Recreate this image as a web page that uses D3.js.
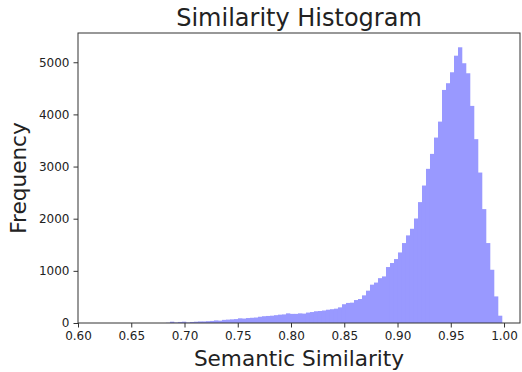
<!DOCTYPE html>
<html>
<head>
<meta charset="utf-8">
<script src="https://cdn.jsdelivr.net/npm/d3@7"></script>
<style>
 body{margin:0;background:#fff;}
 svg text{font-family:"DejaVu Sans",sans-serif;fill:#222;}
</style>
</head>
<body>
<div id="chart"></div>
<script>
// histogram bins: left edge of first bin and common width
var binStart = 0.6225;
var binWidth = 0.003756;

// counts per bin
var counts = [
 0,0,0,0,0,0,0,0,0,0,
 0,0,0,0,0,0,5,25,10,20,
 25,10,20,25,30,30,35,40,50,45,
 60,65,70,75,90,85,95,100,105,120,
 130,135,140,150,160,165,185,175,175,185,
 180,200,210,225,230,240,255,265,275,300,
 360,385,390,440,460,530,620,735,775,860,
 893,1073,1150,1226,1353,1533,1680,1807,2004,2318,
 2636,2956,3243,3556,3862,4469,4598,4808,5126,5287,
 4981,4789,4163,3525,2885,2184,1533,1021,510,140
];

var xTicks = [0.60,0.65,0.70,0.75,0.80,0.85,0.90,0.95,1.00];
var yTicks = [0,1000,2000,3000,4000,5000];

var W = 522, H = 372;
var m = {left:78, top:33, right:2, bottom:49};

var svg = d3.select("#chart").append("svg").attr("width",W).attr("height",H);

var x = d3.scaleLinear().domain([0.6,1.015]).range([m.left,W-m.right]);
var y = d3.scaleLinear().domain([0,5561]).range([H-m.bottom,m.top]);

var bins = counts.map(function(c,i){
 return {x0:binStart+i*binWidth, x1:binStart+(i+1)*binWidth, n:c};
});

svg.append("g").selectAll("rect").data(bins).enter().append("rect")
 .attr("x",function(d){return x(d.x0);})
 .attr("width",function(d){return x(d.x1)-x(d.x0)+0.3;})
 .attr("y",function(d){return y(d.n);})
 .attr("height",function(d){return y(0)-y(d.n);})
 .attr("fill","#9999ff");

// frame
svg.append("rect")
 .attr("x",m.left).attr("y",m.top)
 .attr("width",W-m.right-m.left).attr("height",H-m.bottom-m.top)
 .attr("fill","none").attr("stroke","#333").attr("stroke-width",1);

var xAxis = svg.append("g").attr("transform","translate(0,"+(H-m.bottom)+")")
 .call(d3.axisBottom(x).tickValues(xTicks).tickFormat(d3.format(".2f")).tickSize(4.5).tickPadding(4));
var yAxis = svg.append("g").attr("transform","translate("+m.left+",0)")
 .call(d3.axisLeft(y).tickValues(yTicks).tickFormat(d3.format("d")).tickSize(4.5).tickPadding(4));

[xAxis,yAxis].forEach(function(a){
 a.select(".domain").remove();
 a.selectAll("line").attr("stroke","#333");
 a.selectAll("text").style("font-size","12px").attr("fill","#222");
});

svg.append("text").attr("x",(m.left+W-m.right)/2).attr("y",26)
 .attr("text-anchor","middle").style("font-size","24px").text("Similarity Histogram");

svg.append("text").attr("x",(m.left+W-m.right)/2).attr("y",366)
 .attr("text-anchor","middle").style("font-size","21.6px").text("Semantic Similarity");

svg.append("text").attr("transform","translate(26,"+((m.top+H-m.bottom)/2)+") rotate(-90)")
 .attr("text-anchor","middle").style("font-size","21.6px").text("Frequency");
</script>
</body>
</html>
